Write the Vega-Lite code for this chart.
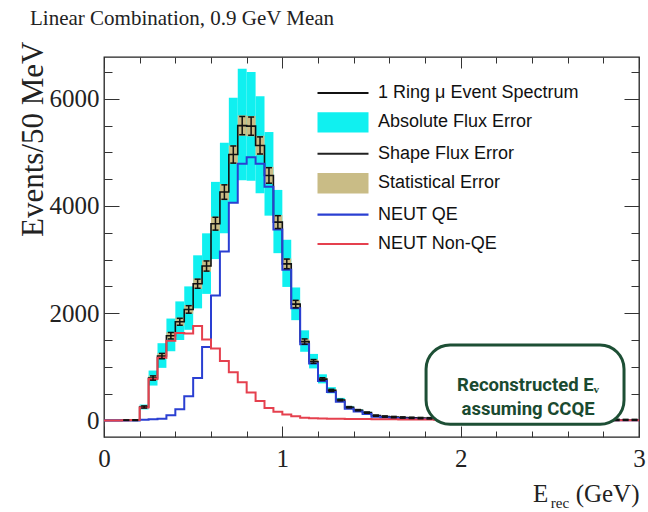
{
  "$schema": "https://vega.github.io/schema/vega-lite/v6.json",
  "width": 535,
  "height": 380,
  "autosize": "none",
  "padding": {"left": 104, "top": 57, "right": 9, "bottom": 75},
  "background": "white",
  "title": {"text": "Linear Combination, 0.9 GeV Mean", "anchor": "start", "frame": "group", "font": "Liberation Serif", "fontSize": 21, "fontWeight": "normal", "color": "#222", "dx": -74, "dy": 25, "offset": 20, "baseline": "alphabetic"},
  "config": {
    "view": {"stroke": "#222", "strokeWidth": 1.3},
    "axis": {"domain": false, "grid": false, "labelFont": "Liberation Serif", "labelFontSize": 25, "labelColor": "#222", "tickColor": "#333", "tickWidth": 1, "titleFont": "Liberation Serif", "titleFontSize": 25, "titleFontWeight": "normal", "titleColor": "#222"}
  },
  "resolve": {"axis": {"x": "independent", "y": "independent"}},
  "datasets": {
    "h": [
      {"lo": 0.00, "hi": 0.05, "c": 0.025, "tot": 0, "qe": 0, "nqe": 0, "flo": 0, "fhi": 0, "slo": 0, "shi": 0, "elo": 0, "ehi": 0},
      {"lo": 0.05, "hi": 0.10, "c": 0.075, "tot": 0, "qe": 0, "nqe": 0, "flo": 0, "fhi": 0, "slo": 0, "shi": 0, "elo": 0, "ehi": 0},
      {"lo": 0.10, "hi": 0.15, "c": 0.125, "tot": 2, "qe": 0, "nqe": 2, "flo": 1, "fhi": 3, "slo": 0, "shi": 5, "elo": 0, "ehi": 8},
      {"lo": 0.15, "hi": 0.20, "c": 0.175, "tot": 6, "qe": 0, "nqe": 6, "flo": 4, "fhi": 8, "slo": 2, "shi": 10, "elo": 0, "ehi": 14},
      {"lo": 0.20, "hi": 0.25, "c": 0.225, "tot": 250, "qe": 10, "nqe": 240, "flo": 205, "fhi": 295, "slo": 225, "shi": 275, "elo": 230, "ehi": 270},
      {"lo": 0.25, "hi": 0.30, "c": 0.275, "tot": 790, "qe": 20, "nqe": 770, "flo": 650, "fhi": 930, "slo": 745, "shi": 835, "elo": 750, "ehi": 830},
      {"lo": 0.30, "hi": 0.35, "c": 0.325, "tot": 1200, "qe": 30, "nqe": 1170, "flo": 980, "fhi": 1440, "slo": 1145, "shi": 1255, "elo": 1150, "ehi": 1250},
      {"lo": 0.35, "hi": 0.40, "c": 0.375, "tot": 1580, "qe": 95, "nqe": 1485, "flo": 1290, "fhi": 1900, "slo": 1515, "shi": 1645, "elo": 1520, "ehi": 1640},
      {"lo": 0.40, "hi": 0.45, "c": 0.425, "tot": 1840, "qe": 210, "nqe": 1630, "flo": 1500, "fhi": 2220, "slo": 1765, "shi": 1915, "elo": 1775, "ehi": 1905},
      {"lo": 0.45, "hi": 0.50, "c": 0.475, "tot": 2070, "qe": 450, "nqe": 1620, "flo": 1690, "fhi": 2500, "slo": 1990, "shi": 2150, "elo": 2000, "ehi": 2140},
      {"lo": 0.50, "hi": 0.55, "c": 0.525, "tot": 2550, "qe": 790, "nqe": 1760, "flo": 2090, "fhi": 3080, "slo": 2455, "shi": 2645, "elo": 2465, "ehi": 2635},
      {"lo": 0.55, "hi": 0.60, "c": 0.575, "tot": 2880, "qe": 1370, "nqe": 1510, "flo": 2360, "fhi": 3490, "slo": 2775, "shi": 2985, "elo": 2785, "ehi": 2975},
      {"lo": 0.60, "hi": 0.65, "c": 0.625, "tot": 3670, "qe": 2330, "nqe": 1340, "flo": 3010, "fhi": 4450, "slo": 3540, "shi": 3800, "elo": 3550, "ehi": 3790},
      {"lo": 0.65, "hi": 0.70, "c": 0.675, "tot": 4260, "qe": 3150, "nqe": 1110, "flo": 3490, "fhi": 5180, "slo": 4110, "shi": 4410, "elo": 4125, "ehi": 4395},
      {"lo": 0.70, "hi": 0.75, "c": 0.725, "tot": 4960, "qe": 4060, "nqe": 900, "flo": 4060, "fhi": 6020, "slo": 4790, "shi": 5130, "elo": 4800, "ehi": 5120},
      {"lo": 0.75, "hi": 0.80, "c": 0.775, "tot": 5500, "qe": 4790, "nqe": 710, "flo": 4480, "fhi": 6560, "slo": 5310, "shi": 5690, "elo": 5330, "ehi": 5670},
      {"lo": 0.80, "hi": 0.85, "c": 0.825, "tot": 5490, "qe": 4910, "nqe": 520, "flo": 4470, "fhi": 6500, "slo": 5300, "shi": 5680, "elo": 5320, "ehi": 5660},
      {"lo": 0.85, "hi": 0.90, "c": 0.875, "tot": 5130, "qe": 4790, "nqe": 360, "flo": 4240, "fhi": 6050, "slo": 4950, "shi": 5310, "elo": 4970, "ehi": 5290},
      {"lo": 0.90, "hi": 0.95, "c": 0.925, "tot": 4570, "qe": 4360, "nqe": 230, "flo": 3820, "fhi": 5380, "slo": 4410, "shi": 4730, "elo": 4425, "ehi": 4715},
      {"lo": 0.95, "hi": 1.00, "c": 0.975, "tot": 3700, "qe": 3560, "nqe": 160, "flo": 3120, "fhi": 4300, "slo": 3570, "shi": 3830, "elo": 3580, "ehi": 3820},
      {"lo": 1.00, "hi": 1.05, "c": 1.025, "tot": 2920, "qe": 2810, "nqe": 110, "flo": 2490, "fhi": 3370, "slo": 2820, "shi": 3020, "elo": 2830, "ehi": 3010},
      {"lo": 1.05, "hi": 1.10, "c": 1.075, "tot": 2170, "qe": 2090, "nqe": 75, "flo": 1870, "fhi": 2480, "slo": 2095, "shi": 2245, "elo": 2100, "ehi": 2240},
      {"lo": 1.10, "hi": 1.15, "c": 1.125, "tot": 1470, "qe": 1420, "nqe": 50, "flo": 1280, "fhi": 1680, "slo": 1420, "shi": 1520, "elo": 1420, "ehi": 1520},
      {"lo": 1.15, "hi": 1.20, "c": 1.175, "tot": 1100, "qe": 1060, "nqe": 42, "flo": 970, "fhi": 1240, "slo": 1060, "shi": 1140, "elo": 1065, "ehi": 1135},
      {"lo": 1.20, "hi": 1.25, "c": 1.225, "tot": 770, "qe": 735, "nqe": 36, "flo": 690, "fhi": 860, "slo": 740, "shi": 800, "elo": 745, "ehi": 795},
      {"lo": 1.25, "hi": 1.30, "c": 1.275, "tot": 560, "qe": 528, "nqe": 32, "flo": 505, "fhi": 620, "slo": 540, "shi": 580, "elo": 540, "ehi": 580},
      {"lo": 1.30, "hi": 1.35, "c": 1.325, "tot": 380, "qe": 350, "nqe": 30, "flo": 345, "fhi": 420, "slo": 365, "shi": 395, "elo": 365, "ehi": 395},
      {"lo": 1.35, "hi": 1.40, "c": 1.375, "tot": 245, "qe": 218, "nqe": 28, "flo": 222, "fhi": 270, "slo": 233, "shi": 257, "elo": 233, "ehi": 257},
      {"lo": 1.40, "hi": 1.45, "c": 1.425, "tot": 190, "qe": 164, "nqe": 26, "flo": 172, "fhi": 210, "slo": 180, "shi": 200, "elo": 178, "ehi": 202},
      {"lo": 1.45, "hi": 1.50, "c": 1.475, "tot": 145, "qe": 121, "nqe": 24, "flo": 132, "fhi": 160, "slo": 137, "shi": 153, "elo": 133, "ehi": 157},
      {"lo": 1.50, "hi": 1.55, "c": 1.525, "tot": 88, "qe": 66, "nqe": 22, "flo": 80, "fhi": 97, "slo": 82, "shi": 94, "elo": 76, "ehi": 100},
      {"lo": 1.55, "hi": 1.60, "c": 1.575, "tot": 72, "qe": 52, "nqe": 20, "flo": 65, "fhi": 80, "slo": 66, "shi": 78, "elo": 60, "ehi": 84},
      {"lo": 1.60, "hi": 1.65, "c": 1.625, "tot": 62, "qe": 43, "nqe": 19, "flo": 56, "fhi": 68, "slo": 56, "shi": 68, "elo": 50, "ehi": 74},
      {"lo": 1.65, "hi": 1.70, "c": 1.675, "tot": 54, "qe": 36, "nqe": 18, "flo": 49, "fhi": 59, "slo": 49, "shi": 59, "elo": 42, "ehi": 66},
      {"lo": 1.70, "hi": 1.75, "c": 1.725, "tot": 48, "qe": 31, "nqe": 17, "flo": 44, "fhi": 52, "slo": 43, "shi": 53, "elo": 36, "ehi": 60},
      {"lo": 1.75, "hi": 1.80, "c": 1.775, "tot": 43, "qe": 27, "nqe": 16, "flo": 40, "fhi": 46, "slo": 38, "shi": 48, "elo": 31, "ehi": 55},
      {"lo": 1.80, "hi": 1.85, "c": 1.825, "tot": 39, "qe": 24, "nqe": 15, "flo": 36, "fhi": 42, "slo": 34, "shi": 44, "elo": 27, "ehi": 51},
      {"lo": 1.85, "hi": 1.90, "c": 1.875, "tot": 35, "qe": 21, "nqe": 14, "flo": 32, "fhi": 38, "slo": 30, "shi": 40, "elo": 23, "ehi": 47},
      {"lo": 1.90, "hi": 1.95, "c": 1.925, "tot": 32, "qe": 19, "nqe": 13, "flo": 29, "fhi": 35, "slo": 27, "shi": 37, "elo": 20, "ehi": 44},
      {"lo": 1.95, "hi": 2.00, "c": 1.975, "tot": 29, "qe": 17, "nqe": 12, "flo": 27, "fhi": 31, "slo": 24, "shi": 34, "elo": 17, "ehi": 41},
      {"lo": 2.00, "hi": 2.05, "c": 2.025, "tot": 27, "qe": 15, "nqe": 12, "flo": 25, "fhi": 29, "slo": 22, "shi": 32, "elo": 15, "ehi": 39},
      {"lo": 2.05, "hi": 2.10, "c": 2.075, "tot": 25, "qe": 14, "nqe": 11, "flo": 23, "fhi": 27, "slo": 20, "shi": 30, "elo": 13, "ehi": 37},
      {"lo": 2.10, "hi": 2.15, "c": 2.125, "tot": 23, "qe": 13, "nqe": 10, "flo": 21, "fhi": 25, "slo": 18, "shi": 28, "elo": 11, "ehi": 35},
      {"lo": 2.15, "hi": 2.20, "c": 2.175, "tot": 21, "qe": 12, "nqe": 9, "flo": 19, "fhi": 23, "slo": 16, "shi": 26, "elo": 9, "ehi": 33},
      {"lo": 2.20, "hi": 2.25, "c": 2.225, "tot": 19, "qe": 11, "nqe": 8, "flo": 17, "fhi": 21, "slo": 14, "shi": 24, "elo": 7, "ehi": 31},
      {"lo": 2.25, "hi": 2.30, "c": 2.275, "tot": 18, "qe": 10, "nqe": 8, "flo": 17, "fhi": 19, "slo": 13, "shi": 23, "elo": 6, "ehi": 30},
      {"lo": 2.30, "hi": 2.35, "c": 2.325, "tot": 17, "qe": 9, "nqe": 8, "flo": 16, "fhi": 18, "slo": 12, "shi": 22, "elo": 5, "ehi": 29},
      {"lo": 2.35, "hi": 2.40, "c": 2.375, "tot": 15, "qe": 8, "nqe": 7, "flo": 14, "fhi": 16, "slo": 10, "shi": 20, "elo": 3, "ehi": 27},
      {"lo": 2.40, "hi": 2.45, "c": 2.425, "tot": 14, "qe": 7, "nqe": 7, "flo": 13, "fhi": 15, "slo": 9, "shi": 19, "elo": 2, "ehi": 26},
      {"lo": 2.45, "hi": 2.50, "c": 2.475, "tot": 13, "qe": 7, "nqe": 6, "flo": 12, "fhi": 14, "slo": 8, "shi": 18, "elo": 1, "ehi": 25},
      {"lo": 2.50, "hi": 2.55, "c": 2.525, "tot": 12, "qe": 6, "nqe": 6, "flo": 11, "fhi": 13, "slo": 7, "shi": 17, "elo": 0, "ehi": 24},
      {"lo": 2.55, "hi": 2.60, "c": 2.575, "tot": 11, "qe": 6, "nqe": 5, "flo": 10, "fhi": 12, "slo": 6, "shi": 16, "elo": 0, "ehi": 23},
      {"lo": 2.60, "hi": 2.65, "c": 2.625, "tot": 10, "qe": 5, "nqe": 5, "flo": 9, "fhi": 11, "slo": 5, "shi": 15, "elo": 0, "ehi": 22},
      {"lo": 2.65, "hi": 2.70, "c": 2.675, "tot": 10, "qe": 5, "nqe": 5, "flo": 9, "fhi": 11, "slo": 5, "shi": 15, "elo": 0, "ehi": 22},
      {"lo": 2.70, "hi": 2.75, "c": 2.725, "tot": 9, "qe": 4, "nqe": 5, "flo": 8, "fhi": 10, "slo": 4, "shi": 14, "elo": 0, "ehi": 21},
      {"lo": 2.75, "hi": 2.80, "c": 2.775, "tot": 9, "qe": 4, "nqe": 5, "flo": 8, "fhi": 10, "slo": 4, "shi": 14, "elo": 0, "ehi": 21},
      {"lo": 2.80, "hi": 2.85, "c": 2.825, "tot": 8, "qe": 4, "nqe": 4, "flo": 7, "fhi": 9, "slo": 3, "shi": 13, "elo": 0, "ehi": 20},
      {"lo": 2.85, "hi": 2.90, "c": 2.875, "tot": 8, "qe": 4, "nqe": 4, "flo": 7, "fhi": 9, "slo": 3, "shi": 13, "elo": 0, "ehi": 20},
      {"lo": 2.90, "hi": 2.95, "c": 2.925, "tot": 7, "qe": 3, "nqe": 4, "flo": 6, "fhi": 8, "slo": 2, "shi": 12, "elo": 0, "ehi": 19},
      {"lo": 2.95, "hi": 3.00, "c": 2.975, "tot": 7, "qe": 3, "nqe": 4, "flo": 6, "fhi": 8, "slo": 2, "shi": 12, "elo": 0, "ehi": 19},
      {"lo": 3.00, "tot": 7, "qe": 3, "nqe": 4}
    ],
    "leg": [
      {"s": "1 Ring μ Event Spectrum"},
      {"s": "Absolute Flux Error"},
      {"s": "Shape Flux Error"},
      {"s": "Statistical Error"},
      {"s": "NEUT QE"},
      {"s": "NEUT Non-QE"}
    ]
  },
  "layer": [
    {
      "data": {"name": "h"},
      "transform": [{"filter": "datum.hi != null"}],
      "mark": {"type": "rect", "color": "#10f0f0"},
      "encoding": {
        "x": {"field": "lo", "type": "quantitative", "scale": {"domain": [0, 3], "nice": false, "zero": false},
          "axis": {"orient": "bottom", "values": [0, 0.2, 0.4, 0.6, 0.8, 1, 1.2, 1.4, 1.6, 1.8, 2, 2.2, 2.4, 2.6, 2.8, 3],
            "tickSize": {"condition": {"test": "datum.value % 1 === 0", "value": -11}, "value": -6},
            "labelExpr": "datum.value % 1 === 0 ? format(datum.value, 'd') : ''", "labelPadding": 20, "labelFlush": false, "labelOverlap": false,
            "title": "(GeV)", "titleX": 535, "titleY": 64, "titleAlign": "right", "titleBaseline": "alphabetic", "titleAnchor": "end"}},
        "x2": {"field": "hi"},
        "y": {"field": "flo", "type": "quantitative", "scale": {"domain": [-310, 6780], "nice": false, "zero": false},
          "axis": {"orient": "left", "values": [0, 500, 1000, 1500, 2000, 2500, 3000, 3500, 4000, 4500, 5000, 5500, 6000, 6500],
            "tickSize": {"condition": {"test": "datum.value % 2000 === 0", "value": -15}, "value": -8},
            "labelExpr": "datum.value % 2000 === 0 ? format(datum.value, 'd') : ''", "labelPadding": 20, "labelOverlap": false,
            "title": "Events/50 MeV", "titleFontSize": 31, "titleAnchor": "end", "titleAngle": -90, "titleAlign": "right", "titleBaseline": "middle", "titleX": -71, "titleY": -16}},
        "y2": {"field": "fhi"}
      }
    },
    {
      "data": {"name": "h"},
      "transform": [{"filter": "datum.hi != null"}],
      "mark": {"type": "rect", "color": "#c9bc86"},
      "encoding": {
        "x": {"field": "lo", "type": "quantitative",
          "axis": {"orient": "top", "values": [0, 0.2, 0.4, 0.6, 0.8, 1, 1.2, 1.4, 1.6, 1.8, 2, 2.2, 2.4, 2.6, 2.8, 3],
            "tickSize": {"condition": {"test": "datum.value % 1 === 0", "value": -11}, "value": -6},
            "labels": false, "title": null}},
        "x2": {"field": "hi"},
        "y": {"field": "slo", "type": "quantitative",
          "axis": {"orient": "right", "values": [0, 500, 1000, 1500, 2000, 2500, 3000, 3500, 4000, 4500, 5000, 5500, 6000, 6500],
            "tickSize": {"condition": {"test": "datum.value % 2000 === 0", "value": -15}, "value": -8},
            "labels": false, "title": null}},
        "y2": {"field": "shi"}
      }
    },
    {
      "data": {"name": "h"},
      "mark": {"type": "line", "interpolate": "step-after", "color": "#111", "strokeWidth": 1.6},
      "encoding": {
        "x": {"field": "lo", "type": "quantitative", "axis": null},
        "y": {"field": "tot", "type": "quantitative", "axis": null}
      }
    },
    {
      "data": {"name": "h"},
      "mark": {"type": "line", "interpolate": "step-after", "color": "#2a3fd2", "strokeWidth": 2},
      "encoding": {
        "x": {"field": "lo", "type": "quantitative", "axis": null},
        "y": {"field": "qe", "type": "quantitative", "axis": null}
      }
    },
    {
      "data": {"name": "h"},
      "mark": {"type": "line", "interpolate": "step-after", "color": "#e5404e", "strokeWidth": 2},
      "encoding": {
        "x": {"field": "lo", "type": "quantitative", "axis": null},
        "y": {"field": "nqe", "type": "quantitative", "axis": null}
      }
    },
    {
      "data": {"name": "h"},
      "transform": [{"filter": "datum.hi != null && datum.tot > 0"}],
      "mark": {"type": "rule", "color": "#111", "strokeWidth": 1.5},
      "encoding": {
        "x": {"field": "c", "type": "quantitative", "axis": null},
        "y": {"field": "elo", "type": "quantitative", "axis": null},
        "y2": {"field": "ehi"}
      }
    },
    {
      "data": {"name": "h"},
      "transform": [{"filter": "datum.hi != null && datum.tot > 0"}],
      "mark": {"type": "tick", "orient": "horizontal", "color": "#111", "size": 6, "thickness": 1.5, "opacity": 1},
      "encoding": {
        "x": {"field": "c", "type": "quantitative", "axis": null},
        "y": {"field": "elo", "type": "quantitative", "axis": null}
      }
    },
    {
      "data": {"name": "h"},
      "transform": [{"filter": "datum.hi != null && datum.tot > 0"}],
      "mark": {"type": "tick", "orient": "horizontal", "color": "#111", "size": 6, "thickness": 1.5, "opacity": 1},
      "encoding": {
        "x": {"field": "c", "type": "quantitative", "axis": null},
        "y": {"field": "ehi", "type": "quantitative", "axis": null}
      }
    },
    {
      "data": {"values": [{"note": "box"}]},
      "mark": {"type": "rect", "fill": "white", "stroke": "#1d4f35", "strokeWidth": 3, "cornerRadius": 24},
      "encoding": {
        "x": {"datum": 1.806, "type": "quantitative", "axis": null},
        "x2": {"datum": 2.916},
        "y": {"datum": 1408, "type": "quantitative", "axis": null},
        "y2": {"datum": -73}
      }
    },
    {
      "data": {"values": [{"note": "box"}]},
      "mark": {"type": "text", "text": ["Reconstructed Eᵥ", "assuming CCQE"], "font": "Roboto", "fontWeight": "bold", "fontSize": 18.5, "color": "#1a4a30", "align": "center", "baseline": "middle", "lineHeight": 24},
      "encoding": {
        "x": {"datum": 2.378, "type": "quantitative", "axis": null},
        "y": {"datum": 660, "type": "quantitative", "axis": null}
      }
    },
    {
      "data": {"values": [{"note": "xtitle"}]},
      "mark": {"type": "text", "text": "E", "font": "Liberation Serif", "fontSize": 25, "color": "#222", "align": "left", "baseline": "alphabetic"},
      "encoding": {
        "x": {"datum": 2.406, "type": "quantitative", "axis": null},
        "y": {"datum": -1520, "type": "quantitative", "axis": null}
      }
    },
    {
      "data": {"values": [{"note": "xtitle"}]},
      "mark": {"type": "text", "text": "rec", "font": "Liberation Serif", "fontSize": 15, "color": "#222", "align": "left", "baseline": "alphabetic"},
      "encoding": {
        "x": {"datum": 2.505, "type": "quantitative", "axis": null},
        "y": {"datum": -1640, "type": "quantitative", "axis": null}
      }
    },
    {
      "data": {"name": "leg"},
      "mark": {"type": "point", "filled": true, "clip": true, "opacity": 1},
      "encoding": {
        "x": {"datum": -1, "type": "quantitative", "axis": null},
        "y": {"datum": -5000, "type": "quantitative", "axis": null},
        "color": {"field": "s", "type": "nominal",
          "scale": {"domain": ["1 Ring μ Event Spectrum", "Absolute Flux Error", "Shape Flux Error", "Statistical Error", "NEUT QE", "NEUT Non-QE"],
            "range": ["#111111", "#10f0f0", "#222222", "#c9bc86", "#2a3fd2", "#e5404e"]},
          "legend": {"orient": "none", "legendX": 224, "legendY": 21, "title": null, "padding": 0, "labelFont": "Liberation Sans", "labelFontSize": 18, "labelColor": "#111", "labelLimit": 400, "symbolSize": 900, "symbolStrokeWidth": 0, "symbolOpacity": 1, "labelOffset": 20, "rowPadding": 5.4}},
        "shape": {"field": "s", "type": "nominal",
          "scale": {"domain": ["1 Ring μ Event Spectrum", "Absolute Flux Error", "Shape Flux Error", "Statistical Error", "NEUT QE", "NEUT Non-QE"],
            "range": ["M-1.7,-0.07H1.7V0.07H-1.7Z", "M-1.7,-0.68H1.7V0.68H-1.7Z", "M-1.7,-0.07H1.7V0.07H-1.7Z", "M-1.7,-0.68H1.7V0.68H-1.7Z", "M-1.7,-0.07H1.7V0.07H-1.7Z", "M-1.7,-0.07H1.7V0.07H-1.7Z"]}}
      }
    }
  ]
}
